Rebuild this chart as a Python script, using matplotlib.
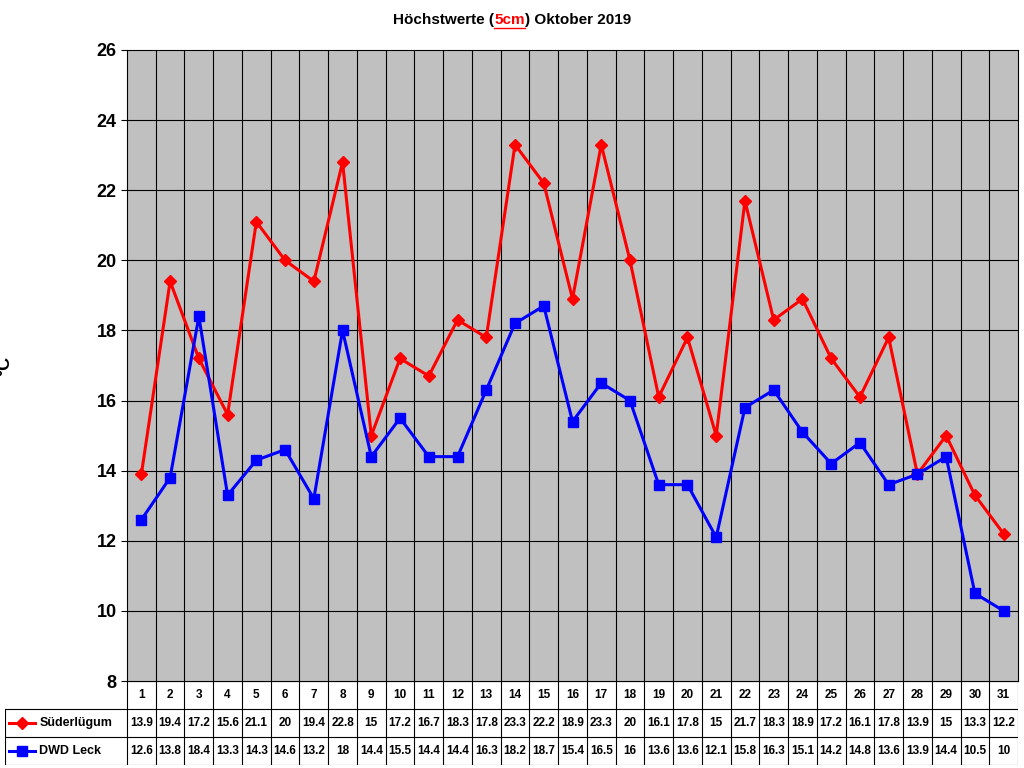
import matplotlib
matplotlib.use("Agg")
import matplotlib.pyplot as plt
from matplotlib.lines import Line2D
plt.rcParams['font.family'] = ['Liberation Sans', 'DejaVu Sans']

days = list(range(1, 32))
sued = [13.9,19.4,17.2,15.6,21.1,20,19.4,22.8,15,17.2,16.7,18.3,17.8,23.3,22.2,18.9,23.3,20,16.1,17.8,15,21.7,18.3,18.9,17.2,16.1,17.8,13.9,15,13.3,12.2]
dwd = [12.6,13.8,18.4,13.3,14.3,14.6,13.2,18,14.4,15.5,14.4,14.4,16.3,18.2,18.7,15.4,16.5,16,13.6,13.6,12.1,15.8,16.3,15.1,14.2,14.8,13.6,13.9,14.4,10.5,10]
series = [("Süderlügum", sued, "#FF0000", "D", 6), ("DWD Leck", dwd, "#0000FF", "s", 7)]

W, H = 1024, 768
fig = plt.figure(figsize=(W/100, H/100), dpi=100)
L, R, T, B = 127, 1018, 50, 681
ax = fig.add_axes([L/W, 1-B/H, (R-L)/W, (B-T)/H])
ax.set_facecolor("#C0C0C0")
ax.set_xlim(0.5, 31.5)
ax.set_ylim(8, 26)
ax.set_yticks(range(8, 27, 2))
ax.tick_params(axis="y", labelsize=13, direction="out", length=4)
for t in ax.get_yticklabels():
    t.set_fontweight("bold")
ax.set_xticks([])
for y in range(10, 26, 2):
    ax.axhline(y, color="black", lw=0.8)
for x in range(1, 31):
    ax.axvline(x + 0.5, color="black", lw=0.8)
for name, vals, c, m, ms in series:
    ax.plot(days, vals, color=c, lw=2.2, marker=m, ms=ms)
for s in ax.spines.values():
    s.set_color("black")
ax.set_ylabel("°C", fontsize=13, fontweight="bold", labelpad=60)

# table
TL, TB = 5, 765
cw = (R - L) / 31
lc = (L - TL) / cw
tax = fig.add_axes([TL/W, 1-TB/H, (R-TL)/W, (TB-B)/H])
tax.set_xlim(0.5 - lc, 31.5)
tax.set_ylim(0, 3)
tax.axis("off")
lk = dict(color="black", lw=0.8)
for y in [0, 1, 2]:
    tax.plot([0.5 - lc, 31.5], [y, y], **lk)
tax.plot([0.5, 31.5], [3, 3], **lk)
tax.plot([0.5 - lc, 0.5 - lc], [0, 2], **lk)
for x in range(0, 32):
    tax.plot([x + 0.5, x + 0.5], [0, 3], **lk)
for d in days:
    tax.text(d, 2.5, str(d), ha="center", va="center", fontsize=8.5, fontweight="bold")
for row, (name, vals, c, m, ms) in zip([1.5, 0.5], series):
    for d, v in zip(days, vals):
        tax.text(d, row, f"{v:g}", ha="center", va="center", fontsize=8.5, fontweight="bold")
    x0 = 0.5 - lc
    tax.add_line(Line2D([x0 + 0.15, x0 + 1.05], [row, row], color=c, lw=2.2, clip_on=False))
    tax.plot([x0 + 0.6], [row], marker=m, color=c, ms=ms)
    tax.text(x0 + 1.2, row, name, ha="left", va="center", fontsize=9, fontweight="bold")

# title
ty = 1 - 20/H
parts = [("Höchstwerte (", "black", False), ("5cm", "red", True), (") Oktober 2019", "black", False)]
fig.canvas.draw()
r = fig.canvas.get_renderer()
tmp = [fig.text(0, 0, p, fontsize=11, fontweight="bold") for p, _, _ in parts]
widths = [t.get_window_extent(r).width for t in tmp]
for t in tmp: t.remove()
x = 512 - sum(widths) / 2
for (p, c, u), w in zip(parts, widths):
    fig.text(x / W, ty, p, fontsize=11, fontweight="bold", color=c, va="center")
    if u:
        fig.add_artist(Line2D([x / W, (x + w) / W], [ty - 8/H, ty - 8/H], color=c, lw=1.0))
    x += w

fig.savefig("out.png", dpi=100)
